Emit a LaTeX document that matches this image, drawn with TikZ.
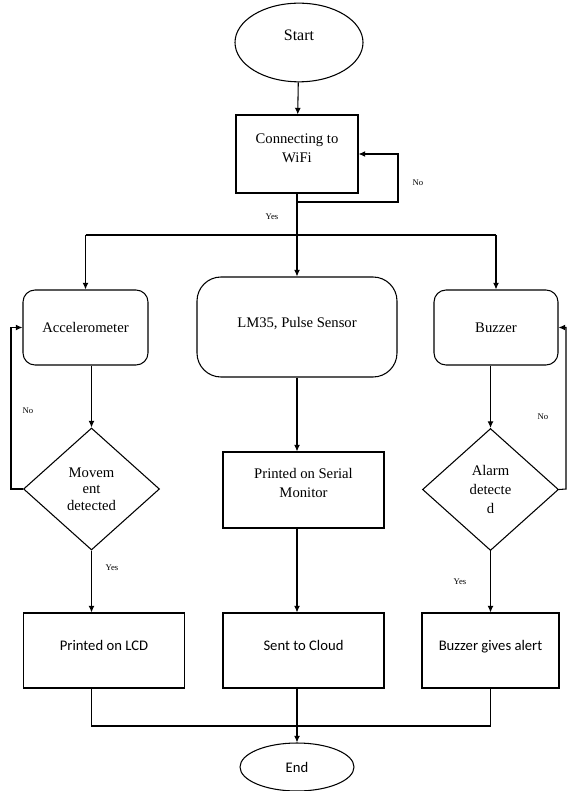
\documentclass[tikz,border=0pt]{standalone}
\usepackage{fontspec}
\setmainfont{Liberation Serif}
\newfontfamily\calibri{Carlito}
\usetikzlibrary{shapes.geometric,arrows.meta}

\begin{document}
\begin{tikzpicture}[x=0.75pt,y=-0.75pt,line width=0.8pt,
        >={Latex[length=5pt,width=4.5pt]},
        every node/.style={font=\fontsize{11}{14}\selectfont,align=center,inner sep=0pt},
        term/.style={draw,ellipse},
        proc/.style={draw,rectangle},
        sensor/.style={draw,rectangle,rounded corners=9pt},
        decide/.style={draw,diamond,minimum width=102pt,minimum height=91.5pt},
        tag/.style={font=\fontsize{6.5}{8}\selectfont}]
        \useasboundingbox (0,0) rectangle (567,791);
        % top part
        \node[term,minimum width=96pt,minimum height=59pt,text depth=11pt,font=\fontsize{12}{14}\selectfont] (start) at (299,42.5) {Start};
        \node[proc,minimum width=91.5pt,minimum height=58.5pt,text depth=8.8pt] (conn) at (297,154) {Connecting to\\WiFi};
        \coordinate (wifiloop) at (398,202);
        \coordinate (fork) at (297,235);
        % three branches
        \node[sensor,minimum width=93.75pt,minimum height=56.25pt] (acc) at (85.5,327.5) {Accelerometer};
        \node[sensor,rounded corners=18pt,minimum width=150pt,minimum height=75pt,text depth=7.5pt] (lm) at (297,327) {LM35, Pulse Sensor};
        \node[sensor,minimum width=93pt,minimum height=56.25pt] (buzz) at (496,327.5) {Buzzer};
        \node[decide,font=\fontsize{11}{12.5}\selectfont] (move) at (91.5,489) {Movem\\ent\\detected};
        \node[proc,minimum width=120.75pt,minimum height=57pt,text depth=10.2pt] (serial) at (303.5,490) {Printed on Serial\\Monitor};
        \node[decide] (alarm) at (490.5,489.5) {Alarm\\detecte\\d};
        \coordinate (moveloop) at (11,489);
        \coordinate (alarmloop) at (566,489);
        \node[proc,minimum width=121pt,minimum height=56.25pt,text depth=7.5pt,font=\calibri\fontsize{11}{14}\selectfont] (lcd) at (104,650.5) {Printed on LCD};
        \node[proc,minimum width=120.75pt,minimum height=56.25pt,text depth=7.5pt,font=\calibri\fontsize{11}{14}\selectfont] (cloud) at (303.5,650.5) {Sent to Cloud};
        \node[proc,minimum width=102.75pt,minimum height=56.25pt,text depth=7.5pt,font=\calibri\fontsize{11}{14}\selectfont] (alert) at (490.5,650.5) {Buzzer gives alert};
        \coordinate (merge) at (297,726);
        \node[term,minimum width=85.5pt,minimum height=36pt,font=\calibri\fontsize{11}{14}\selectfont] (end) at (297,767) {End};
        % labels
        \node[tag] (no1) at (418,183) {No};
        \node[tag] (yes1) at (272,217) {Yes};
        \node[tag] (no2) at (28,411) {No};
        \node[tag] (yes2) at (112,568) {Yes};
        \node[tag] (no3) at (543,417) {No};
        \node[tag] (yes3) at (460,582) {Yes};
        % connectors
        \draw[->] (start) -- (conn);
        \draw[->] (conn.south |- wifiloop) -- (wifiloop) |- (conn.east);
        \draw[->] (conn.south) -- (lm.north);
        \draw (fork -| acc.north) -- (fork -| buzz.north);
        \draw[->] (fork -| acc.north) -- (acc.north);
        \draw[->] (fork -| buzz.north) -- (buzz.north);
        \draw[->] (acc.south -| move.north) -- (move.north);
        \draw[->] (move.west) -- (moveloop) |- (acc.west);
        \draw[->] (move.south) -- (lcd.north -| move.south);
        \draw[->] (lm.south) -- (serial.north -| lm.south);
        \draw[->] (serial.south -| lm.south) -- (cloud.north -| lm.south);
        \draw[->] (buzz.south -| alarm.north) -- (alarm.north);
        \draw[->] (alarm.east) -- (alarmloop) |- (buzz.east);
        \draw[->] (alarm.south) -- (alert.north);
        \draw (lcd.south -| move.south) |- (merge) -| (alert.south);
        \draw[->] (cloud.south -| lm.south) -- (end.north);
\end{tikzpicture}
\end{document}
